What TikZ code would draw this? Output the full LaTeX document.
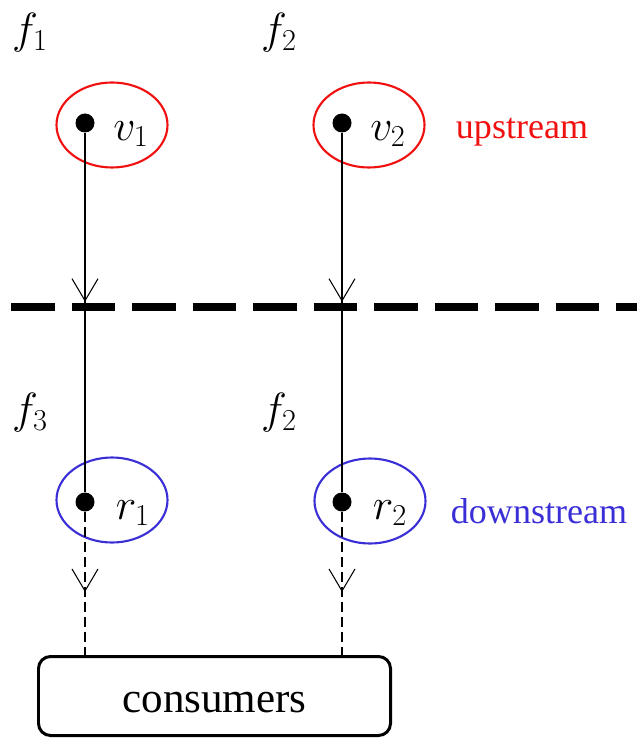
\documentclass[tikz,border=0pt]{standalone}
\usepackage{fontspec}
\setmainfont{Liberation Serif}
\usepackage{amsmath}
\usepackage{tikz}
\usetikzlibrary{arrows.meta, shapes.geometric, decorations.markings}
\definecolor{upred}{HTML}{F01010}
\definecolor{downblue}{HTML}{3A2ED6}

\begin{document}
\begin{tikzpicture}[
    dot/.style={circle, fill=black, inner sep=0pt, minimum size=0.38cm},
    zone/.style={ellipse, line width=1.2pt, minimum width=2.22cm, minimum height=1.7cm},
    lbl/.style={font=\fontsize{25}{28}\selectfont},
    tag/.style={font=\fontsize{20.5}{24}\selectfont},
    flow/.style={line width=1.1pt, postaction={decorate},
      decoration={markings, mark=at position #1 with
        {\arrow{Straight Barb[length=0.44cm,width=0.52cm,line width=0.6pt]}}}},
    feed/.style={flow=#1, dash pattern=on 0.2cm off 0.1cm},
    consbox/.style={draw, line width=1.7pt, rounded corners=0.24cm,
      minimum width=7.04cm, minimum height=1.58cm, text height=19pt,
      font=\fontsize{24.5}{28}\selectfont}
]
  \useasboundingbox (0,0) rectangle (12.74,-14.76);

  % upstream
  \node[zone, draw=upred] (e1) at (2.24,-2.5) {};
  \node[zone, draw=upred] (e2) at (7.38,-2.5) {};
  \node[dot] (v1) at (1.7,-2.46) {};
  \node[dot] (v2) at (6.84,-2.46) {};
  \node[lbl] (lv1) at (2.62,-2.68) {$v_1$};
  \node[lbl] (lv2) at (7.76,-2.68) {$v_2$};
  \node[tag, upred] (up) at (10.44,-2.64) {upstream};

  % downstream
  \node[zone, draw=downblue] (e3) at (2.24,-10.0) {};
  \node[zone, draw=downblue] (e4) at (7.4,-10.02) {};
  \node[dot] (r1) at (1.7,-10.04) {};
  \node[dot] (r2) at (6.84,-10.04) {};
  \node[lbl] (lr1) at (2.66,-10.26) {$r_1$};
  \node[lbl] (lr2) at (7.8,-10.26) {$r_2$};
  \node[tag, downblue] (down) at (10.78,-10.22) {downstream};

  % labels
  \node[lbl] (f1) at (0.6,-0.66) {$f_1$};
  \node[lbl] (f2) at (5.58,-0.66) {$f_2$};
  \node[lbl] (f3) at (0.6,-8.26) {$f_3$};
  \node[lbl] (f4) at (5.58,-8.26) {$f_2$};

  % Trennlinie
  \coordinate (cutL) at (0.22,-6.14);
  \coordinate (cutR) at (12.74,-6.14);
  \draw[line width=4pt, dash pattern=on 0.87cm off 0.34cm] (cutL) -- (cutR);

  % consumers
  \node[consbox] (cons) at (4.29,-13.92) {consumers};

  % Verbindungen
  \draw[flow=0.47] (v1) -- (r1);
  \draw[flow=0.47] (v2) -- (r2);
  \draw[feed=0.56] (r1) -- (r1 |- cons.north);
  \draw[feed=0.56] (r2) -- (r2 |- cons.north);

\end{tikzpicture}
\end{document}
